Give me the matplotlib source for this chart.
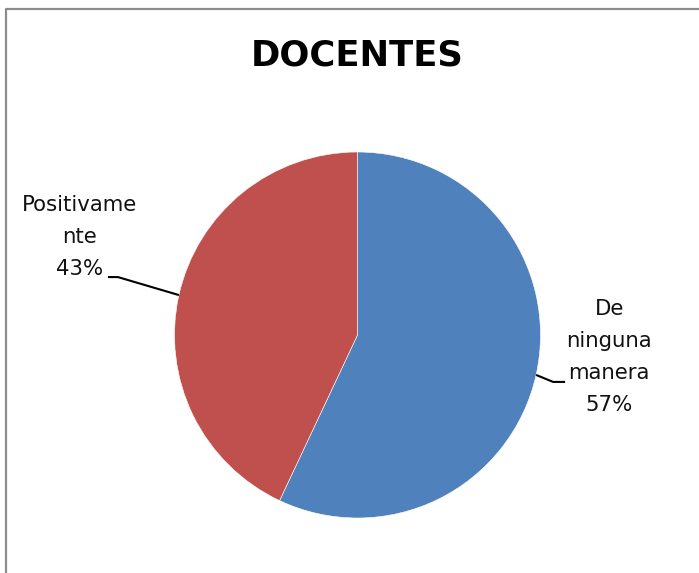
import matplotlib
matplotlib.use("Agg")
import numpy as np
import matplotlib.pyplot as plt
from matplotlib.lines import Line2D

# data
categories = ["De\nninguna\nmanera", "Positivame\nnte"]
percentages = [57, 43]
colors = ["#4F81BD", "#C0504D"]

W, H = 699, 573
fig = plt.figure(figsize=(W / 100, H / 100), dpi=100)
fig.patch.set_facecolor("white")

# axes covering the whole figure, in pixel-like units (y up)
ax = fig.add_axes([0, 0, 1, 1])
cx, cy, r = 357.5, H - 335, 183

wedges, _ = ax.pie(percentages, colors=colors, startangle=90,
                   counterclock=False, center=(cx, cy), radius=r,
                   wedgeprops=dict(edgecolor="white", linewidth=0.4))
ax.set_xlim(0, W)
ax.set_ylim(0, H)
ax.set_aspect("equal")
ax.axis("off")

# label layout: (elbow offset, end offset, text offset) relative to wedge edge
layout = [
    ((17, -7), (29, -7), (73, 17.5)),
    ((-61, 18), (-71, 18), (-99, 58.5)),
]

for w, cat, pct, (elb, end, txt) in zip(wedges, categories, percentages, layout):
    mid = np.deg2rad((w.theta1 + w.theta2) / 2)
    ax_, ay_ = cx + r * np.cos(mid), cy + r * np.sin(mid)
    xs = [ax_, ax_ + elb[0], ax_ + end[0]]
    ys = [ay_, ay_ + elb[1], ay_ + end[1]]
    ax.plot(xs, ys, color="black", lw=1.5, solid_capstyle="butt")
    ax.text(ax_ + txt[0], ay_ + txt[1], f"{cat}\n{pct}%", ha="center",
            va="center", multialignment="center", fontsize=15.3,
            linespacing=1.75, color="#111111", family="DejaVu Sans")

fig.text(357 / W, 1 - 56 / H, "DOCENTES", ha="center", va="center",
         fontsize=25.5, fontweight="bold", family="DejaVu Sans")

# chart area border (only top and left visible)
fig.add_artist(Line2D([6 / W, 6 / W, 1], [0, 1 - 9 / H, 1 - 9 / H],
                      transform=fig.transFigure, color="#8c8c8c", lw=1.6))

fig.savefig("out.png", dpi=100, facecolor="white")
